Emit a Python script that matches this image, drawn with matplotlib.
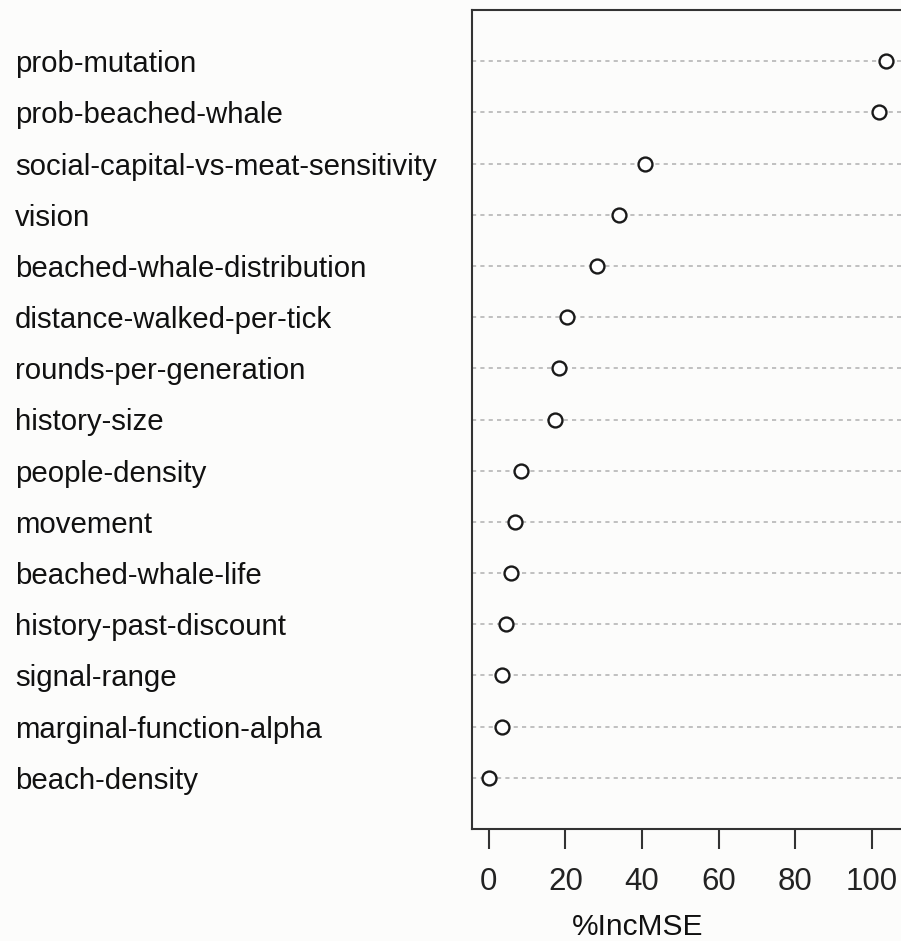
import matplotlib
matplotlib.use("Agg")
import matplotlib.pyplot as plt

plt.rcParams['font.family'] = ['Liberation Sans', 'DejaVu Sans']
plt.rcParams['lines.scale_dashes'] = False

# variable importance, top to bottom
variables = [
    "prob-mutation",
    "prob-beached-whale",
    "social-capital-vs-meat-sensitivity",
    "vision",
    "beached-whale-distribution",
    "distance-walked-per-tick",
    "rounds-per-generation",
    "history-size",
    "people-density",
    "movement",
    "beached-whale-life",
    "history-past-discount",
    "signal-range",
    "marginal-function-alpha",
    "beach-density",
]
inc_mse = [103.6, 102.0, 40.7, 34.0, 28.2, 20.4, 18.2, 17.2,
           8.3, 6.7, 5.7, 4.6, 3.5, 3.5, 0.0]
x_ticks = [0, 20, 40, 60, 80, 100]

W, H = 901, 941
fig = plt.figure(figsize=(W / 100, H / 100), dpi=100)
fig.patch.set_facecolor('#fcfcfb')

ax = fig.add_axes([472 / W, 1 - 829 / H, (904 - 472) / W, (829 - 10) / H])
ax.set_facecolor('#fcfcfb')

n = len(variables)
ypos = list(range(n, 0, -1))

for y in ypos:
    ax.axhline(y, color='#b0b0b0', lw=1.1, ls=(0, (3, 3)), zorder=1)
ax.plot(inc_mse, ypos, ls='none', marker='o', ms=10, mfc='white',
        mec='#1a1a1a', mew=1.7, zorder=3)

ax.set_xlim(-4.4, 108.4)
ax.set_ylim(0, n + 1)

ax.set_xticks(x_ticks)
ax.set_xticklabels([str(t) for t in x_ticks], fontsize=22.5, color='#222222')
ax.tick_params(axis='x', length=14.4, width=1.5, color='#333333', pad=13)

ax.set_yticks(ypos)
ax.set_yticklabels(variables, fontsize=21.2, color='#111111', ha='left')
ax.tick_params(axis='y', length=0, pad=329)

for s in ax.spines.values():
    s.set_linewidth(1.5)
    s.set_color('#333333')

fig.text(638 / W, 1 - 927 / H, "%IncMSE", fontsize=21.5, color='#111111',
         ha='center', va='center')

fig.savefig("out.png", dpi=100, facecolor=fig.get_facecolor())
